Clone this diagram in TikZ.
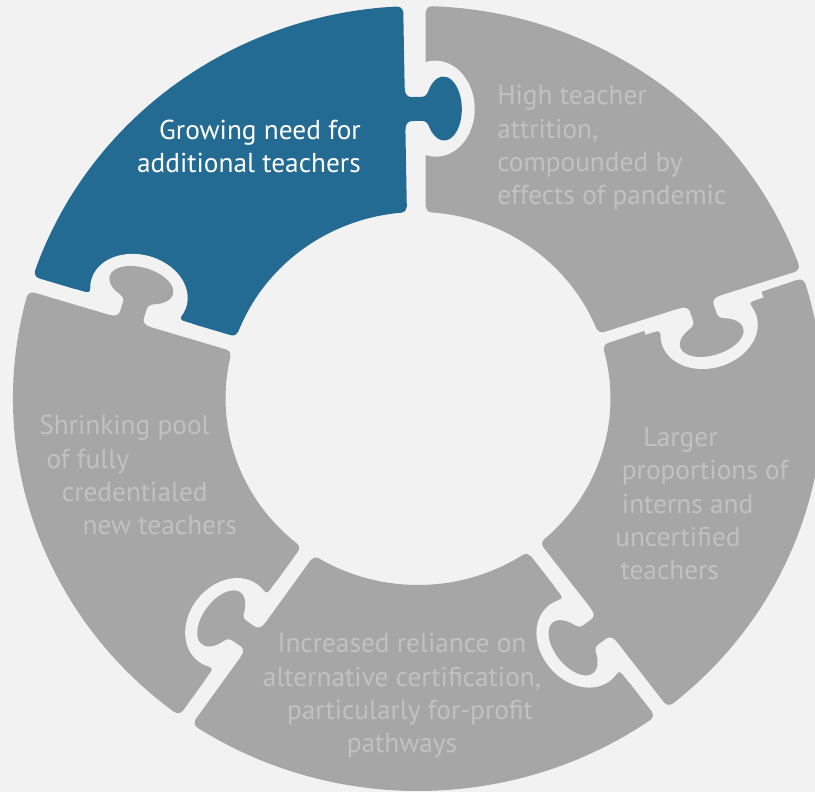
\documentclass[tikz,border=0pt]{standalone}
\usepackage{fontspec}
\setmainfont{PT Sans}
\usepackage{tikz}
\definecolor{fqfqfq}{rgb}{0.949,0.949,0.949}
\definecolor{aqaqaq}{rgb}{0.651,0.651,0.651}
\definecolor{cqcqcq}{rgb}{0.757,0.757,0.757}
\definecolor{ccmmzz}{rgb}{0.141,0.42,0.576}
\begin{document}
\begin{tikzpicture}[line cap=round,line join=round,x=0.75pt,y=0.75pt,lbl/.style={font=\fontsize{20.5}{25}\selectfont,inner sep=0pt}]
\clip(0.,0.) rectangle (815.,792.);
\fill[fqfqfq] (0.,0.) rectangle (815.,792.);
\begin{scope}[shift={(418.,393.5)},xscale=1.032]
\foreach \s/\c in {18/aqaqaq,91/ccmmzz,163/aqaqaq,235/aqaqaq,307/aqaqaq}
\fill[\c,rotate=\s] (192.03,7.5)-- (386.26,7.5) arc[start angle=-90,end angle=2.0017,radius=6.] arc[start angle=2.0017,end angle=69.998,radius=392.5] arc[start angle=69.998,end angle=162.,radius=6.]-- (66.46,180.32) arc[start angle=162.,end angle=247.979,radius=6.] arc[start angle=67.979,end angle=4.021,radius=186.5] arc[start angle=184.021,end angle=270.,radius=6.]-- cycle;
\foreach \s/\c in {18/aqaqaq,91/ccmmzz,163/aqaqaq,235/aqaqaq,307/aqaqaq}{
\fill[fqfqfq,rotate=\s,shift={(289.5,0.)}] (-60.,0.)-- (-60.,-7.5)-- (-52.,-7.5) .. controls (-47.,-7.5) and (-45.1,-8.5) .. (-46.36,-12.16) arc[start angle=165.,end angle=375.,x radius=48.,y radius=38.] .. controls (45.1,-8.5) and (47.,-7.5) .. (52.,-7.5)-- (60.,-7.5)-- (60.,0.)-- cycle;
\fill[\c,rotate=\s,shift={(289.5,0.)}] (-21.,10.)-- (-21.,7.5) .. controls (-15.,7.5) and (-12.,5.) .. (-12.,1.)-- (-12.,-9.) .. controls (-12.,-12.5) and (-15.,-14.5) .. (-18.35,-15.67) arc[start angle=125.,end angle=415.,x radius=32.,y radius=17.5] .. controls (15.,-14.5) and (12.,-12.5) .. (12.,-9.)-- (12.,1.) .. controls (12.,5.) and (15.,7.5) .. (21.,7.5)-- (21.,10.)-- cycle;
}
\end{scope}
\node[lbl,white,anchor=base east,align=right] (need) at (361.,619.3) {Growing need for\\additional teachers};
\node[lbl,cqcqcq,anchor=base west,align=left] (attr) at (497.,587.) {High teacher\\attrition,\\compounded by\\effects of pandemic};
\node[lbl,cqcqcq,anchor=base west,align=left] (interns) at (615.,212.) {\hspace*{21pt}Larger\\\hspace*{5pt}proportions of\\\hspace*{5pt}interns and\\uncertified\\\hspace*{4pt}teachers};
\node[lbl,cqcqcq,anchor=base,align=center] (altcert) at (402.,39.) {Increased reliance on\\alternative certification,\\\hspace*{12pt}particularly for-profit\\pathways};
\node[lbl,cqcqcq,anchor=base west,align=left] (pool) at (39.,257.) {Shrinking pool\\\hspace*{5.5pt}of fully\\\hspace*{17pt}credentialed\\\hspace*{32.5pt}new teachers};
\end{tikzpicture}
\end{document}
